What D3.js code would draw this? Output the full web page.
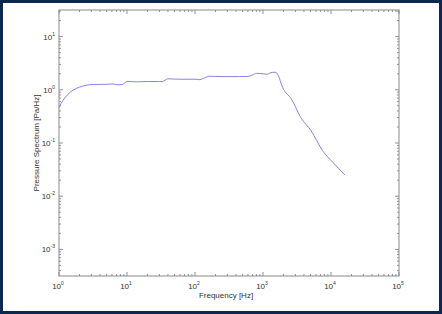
<!DOCTYPE html>
<html>
<head>
<meta charset="utf-8">
<script src="https://cdn.jsdelivr.net/npm/d3@7"></script>
<style>
    html, body { margin: 0; padding: 0; background: #fff; }
    #frame { width: 442px; height: 314px; box-sizing: border-box; border: 3px solid #0b2752; }
    text { font-family: Arial, "Liberation Sans", sans-serif; fill: #333; }
</style>
</head>
<body>
<div id="frame"><svg id="chart" width="436" height="308"></svg></div>
<script>
// spectrum data
const freqs = [1.0, 1.15, 1.35, 1.6, 2.0, 2.5, 3.2, 5.0, 6.2, 7.4, 8.5, 10.2, 13.5, 20, 30, 33, 40, 60, 100, 118, 130, 165, 250, 450, 600, 700, 800, 1000, 1150, 1300, 1500, 1600, 2000, 2600, 3600, 5100, 7500, 10700, 16000];
const pressure = [0.47, 0.64, 0.82, 0.98, 1.12, 1.22, 1.26, 1.27, 1.29, 1.24, 1.26, 1.44, 1.41, 1.43, 1.43, 1.43, 1.61, 1.58, 1.58, 1.55, 1.62, 1.80, 1.77, 1.77, 1.78, 1.90, 2.04, 2.00, 1.96, 2.10, 2.14, 2.05, 1.02, 0.68, 0.30, 0.17, 0.072, 0.043, 0.025];
const xTicks = [1, 10, 100, 1000, 10000, 100000];
const yTicks = [0.001, 0.01, 0.1, 1, 10];

const margin = { top: 7, right: 33, bottom: 35, left: 56 };
const width = 340, height = 266;

const svg = d3.select("#chart")
    .append("g")
    .attr("transform", `translate(${margin.left},${margin.top})`);

const x = d3.scaleLog().domain([1, 1e5]).range([0, width]);
const y = d3.scaleLog().domain([Math.pow(10, -3.5), Math.pow(10, 1.5)]).range([height, 0]);

// minor ticks (2..9 in each decade)
const minorX = [], minorY = [];
for (let e = 0; e < 5; e++) for (let k = 2; k < 10; k++) minorX.push(k * Math.pow(10, e));
for (let e = -4; e < 2; e++) for (let k = 2; k < 10; k++) {
    const v = k * Math.pow(10, e);
    if (v >= y.domain()[0] && v <= y.domain()[1]) minorY.push(v);
}

const tickColor = "#777";
const ticks = svg.append("g").attr("stroke", tickColor).attr("stroke-width", 0.8);

// x ticks, bottom and top, pointing inwards
[[xTicks, 4], [minorX, 2]].forEach(([vals, len]) => {
    vals.forEach(v => {
        ticks.append("line").attr("x1", x(v)).attr("x2", x(v)).attr("y1", height).attr("y2", height - len);
        ticks.append("line").attr("x1", x(v)).attr("x2", x(v)).attr("y1", 0).attr("y2", len);
    });
});
// y ticks, left and right
[[yTicks, 4], [minorY, 2]].forEach(([vals, len]) => {
    vals.forEach(v => {
        ticks.append("line").attr("y1", y(v)).attr("y2", y(v)).attr("x1", 0).attr("x2", len);
        ticks.append("line").attr("y1", y(v)).attr("y2", y(v)).attr("x1", width).attr("x2", width - len);
    });
});

// plot box
svg.append("rect")
    .attr("width", width).attr("height", height)
    .attr("fill", "none").attr("stroke", "#8a8a8a").attr("stroke-width", 1);

// tick labels
svg.selectAll(".xlab").data(xTicks).enter().append("text")
    .attr("class", "xlab")
    .attr("x", d => x(d) - 1)
    .attr("y", height + 13)
    .attr("text-anchor", "middle")
    .attr("font-size", 8)
    .each(function (d) {
        const t = d3.select(this);
        t.append("tspan").text("10");
        t.append("tspan").attr("font-size", 5).attr("dy", -4).text(Math.round(Math.log10(d)));
    });

svg.selectAll(".ylab").data(yTicks).enter().append("text")
    .attr("class", "ylab")
    .attr("x", -4)
    .attr("y", d => y(d) + 3)
    .attr("text-anchor", "end")
    .attr("font-size", 8)
    .each(function (d) {
        const t = d3.select(this);
        t.append("tspan").text("10");
        t.append("tspan").attr("font-size", 5).attr("dy", -4).text(Math.round(Math.log10(d)));
    });

// axis titles
svg.append("text")
    .attr("x", width / 2 - 3)
    .attr("y", height + 22)
    .attr("text-anchor", "middle")
    .attr("font-size", 8)
    .text("Frequency [Hz]");

svg.append("text")
    .attr("transform", `translate(-20,${height / 2}) rotate(-90)`)
    .attr("text-anchor", "middle")
    .attr("font-size", 8)
    .text("Pressure Spectrum [Pa/Hz]");

// the spectrum line
const line = d3.line()
    .x((d, i) => x(freqs[i]))
    .y(d => y(d))
    .curve(d3.curveMonotoneX);

svg.append("path")
    .datum(pressure)
    .attr("d", line)
    .attr("fill", "none")
    .attr("stroke", "#8585e0")
    .attr("stroke-width", 1);
</script>
</body>
</html>
